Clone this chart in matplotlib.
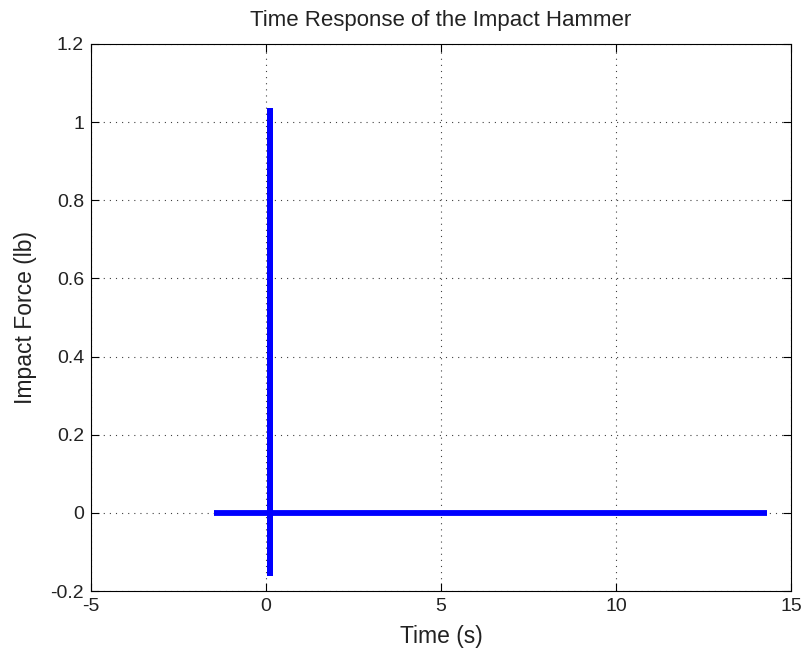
import matplotlib
matplotlib.use("Agg")
import matplotlib.pyplot as plt

# Path of the plotted signal (time in s, force in lb)
time_s = [-1.5, 0.1, 0.1, 0.1, 0.1, 14.3]
force_lb = [0.0, 0.0, 1.035, -0.162, 0.0, 0.0]

x_ticks = [-5, 0, 5, 10, 15]
y_ticks = [-0.2, 0, 0.2, 0.4, 0.6, 0.8, 1, 1.2]
y_tick_labels = ["-0.2", "0", "0.2", "0.4", "0.6", "0.8", "1", "1.2"]

plt.rcParams['font.family'] = ['Liberation Sans', 'DejaVu Sans']
plt.rcParams['axes.unicode_minus'] = False

fig = plt.figure(figsize=(8.05, 6.66), dpi=100)
ax = fig.add_axes([91/805, 75/666, 700/805, 547/666])

ax.plot(time_s, force_lb, color='#0000ff', linewidth=4.2, solid_capstyle='butt',
        solid_joinstyle='miter')

ax.set_xlim(-5, 15)
ax.set_ylim(-0.2, 1.2)
ax.set_xticks(x_ticks)
ax.set_yticks(y_ticks)
ax.set_yticklabels(y_tick_labels)

ax.grid(True, linestyle=(0, (1, 4.5)), color='black', linewidth=0.8, alpha=0.75)
ax.tick_params(direction='in', length=6, width=0.8, labelsize=14, top=True, right=True,
               pad=5, labelcolor='#222222')
for s in ax.spines.values():
    s.set_linewidth(0.8)

ax.set_title("Time Response of the Impact Hammer", fontsize=16, pad=13, color='#222222')
ax.set_xlabel("Time (s)", fontsize=16.5, labelpad=7, color='#222222')
ax.set_ylabel("Impact Force (lb)", fontsize=16.5, labelpad=10, color='#222222')

fig.savefig("out.png", dpi=100)
